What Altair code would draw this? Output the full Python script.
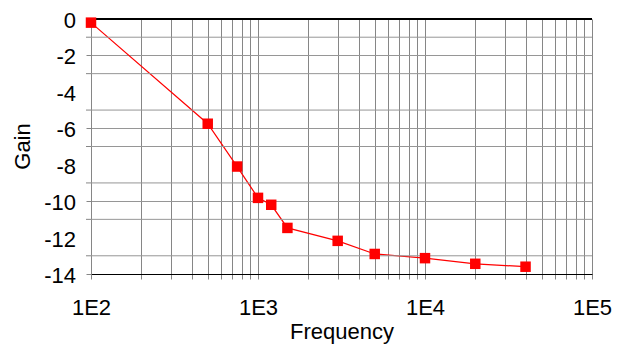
import altair as alt
import pandas as pd

freq = [100, 500, 750, 1000, 1200, 1500, 3000, 5000, 10000, 20000, 40000]
gain = [-0.2, -5.75, -8.1, -9.82, -10.2, -11.47, -12.18, -12.9, -13.13, -13.44, -13.6]

x_ticks = [m * 10 ** k for k in range(2, 5) for m in range(1, 10)] + [100000]
y_major = [-14, -12, -10, -8, -6, -4, -2, 0]
y_minor = [-13, -11, -9, -7, -5, -3, -1]

df = pd.DataFrame({"Frequency": freq, "Gain": gain})
minor_df = pd.DataFrame({"g": y_minor})
major_df = pd.DataFrame({"g": y_major, "lab": [str(v) for v in y_major]})

FONT = "Liberation Sans"
GRID = "#868686"
HGRID = "#969696"

x_enc = alt.X(
    "Frequency:Q",
    scale=alt.Scale(type="log", domain=[100, 100000], nice=False),
    axis=alt.Axis(
        values=x_ticks,
        labelExpr="abs(log(datum.value)/LN10 - round(log(datum.value)/LN10)) < 1e-6 ? '1E' + round(log(datum.value)/LN10) : ''",
        grid=True,
        gridColor=GRID,
        gridWidth=1,
        tickColor=GRID,
        tickSize=5,
        domainColor="black",
        domainWidth=1.2,
        labelFont=FONT,
        labelFontSize=22,
        labelColor="black",
        labelPadding=18,
        labelFlush=False,
        labelOverlap=False,
        title="Frequency",
        titleFont=FONT,
        titleFontSize=22,
        titleFontWeight="normal",
        titleColor="black",
        titlePadding=3,
    ),
)

y_axis = alt.Axis(
    values=y_major,
    labels=False,
    grid=True,
    gridColor=HGRID,
    gridWidth=1,
    tickColor=GRID,
    tickSize=5,
    domainColor=GRID,
    title="Gain",
    titleFont=FONT,
    titleFontSize=22,
    titleFontWeight="normal",
    titleColor="black",
    titleX=-57,
    titleY=127,
)
y_scale = alt.Scale(domain=[-14, 0], nice=False, zero=False)

line = alt.Chart(df).mark_line(color="#ff0000", strokeWidth=1.2).encode(
    x=x_enc, y=alt.Y("Gain:Q", scale=y_scale, axis=y_axis)
)
pts = alt.Chart(df).mark_point(shape="square", filled=True, color="#ff0000", size=110, opacity=1).encode(
    x="Frequency:Q", y=alt.Y("Gain:Q", axis=y_axis)
)

minor_grid = alt.Chart(minor_df).mark_rule(color=HGRID, strokeWidth=1).encode(
    y=alt.Y("g:Q", axis=y_axis), x=alt.value(0), x2=alt.value(501)
)
minor_tick = alt.Chart(minor_df).mark_rule(color=GRID, strokeWidth=1).encode(
    y=alt.Y("g:Q", axis=y_axis), x=alt.value(-5), x2=alt.value(0)
)
y_labels = alt.Chart(major_df).mark_text(
    align="right", baseline="middle", font=FONT, fontSize=22, color="black", dy=2
).encode(y=alt.Y("g:Q", axis=y_axis), x=alt.value(-15), text="lab:N")

top = alt.Chart(df).mark_rule(color="black", strokeWidth=1.2).encode(y=alt.datum(0))

chart = (
    alt.layer(line, minor_grid, minor_tick, top, y_labels, pts)
    .properties(
        width=501,
        height=255,
        autosize=alt.AutoSizeParams(type="none"),
        padding={"left": 83, "top": 11, "right": 28, "bottom": 80},
    )
    .configure_view(stroke=None)
    .configure(background="white")
)

chart.save("out.html", embed_options={"renderer": "svg", "actions": False})
